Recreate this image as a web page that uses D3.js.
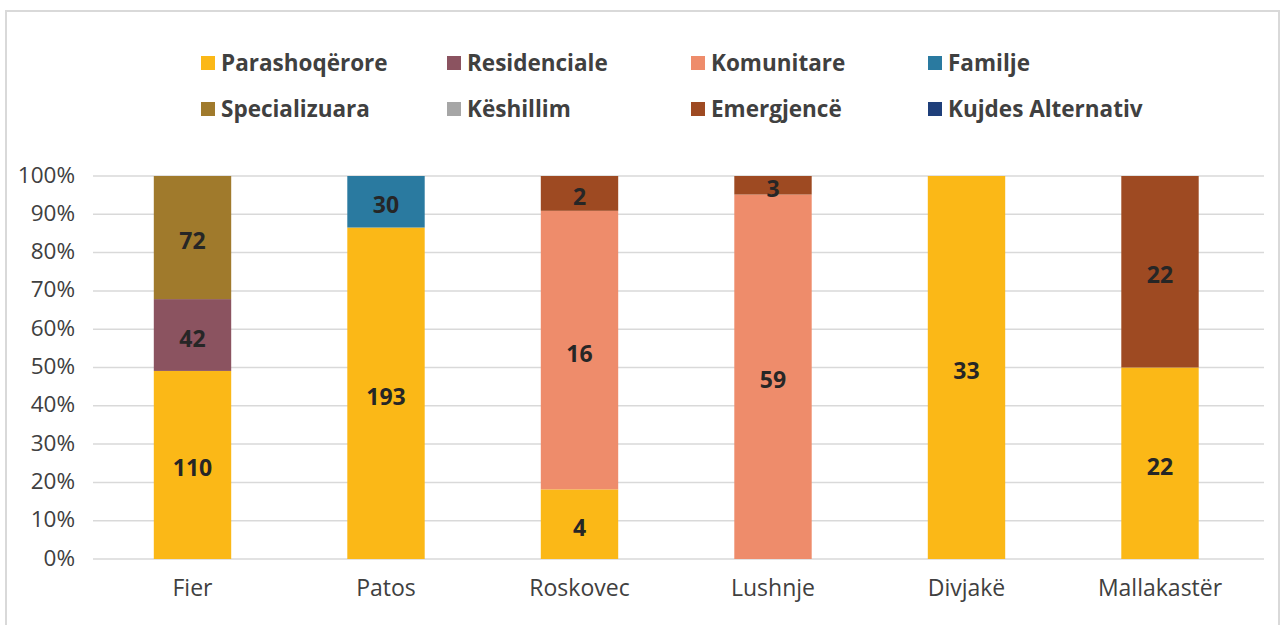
<!DOCTYPE html>
<html><head><meta charset="utf-8">
<script src="https://cdn.jsdelivr.net/npm/d3@7"></script>
<style>body{margin:0;background:#fff}svg{display:block}</style>
</head><body>
<svg id="c" width="1285" height="625"></svg>
<script>
const categories = ["Fier","Patos","Roskovec","Lushnje","Divjakë","Mallakastër"];
const seriesNames = ["Parashoqërore","Residenciale","Komunitare","Familje","Specializuara","Këshillim","Emergjencë","Kujdes Alternativ"];
const seriesColors = ["#FBB817","#8B5360","#EE8C6B","#2A7AA0","#A07A2C","#A6A6A6","#9E4A22","#1F3F7A"];
const parashoqerore = [110,193,4,0,33,22];
const residenciale = [42,0,0,0,0,0];
const komunitare = [0,0,16,59,0,0];
const familje = [0,30,0,0,0,0];
const specializuara = [72,0,0,0,0,0];
const keshillim = [0,0,0,0,0,0];
const emergjence = [0,0,2,3,0,22];
const kujdesAlternativ = [0,0,0,0,0,0];
const yTicks = [0,0.1,0.2,0.3,0.4,0.5,0.6,0.7,0.8,0.9,1];

const seriesValues = [parashoqerore,residenciale,komunitare,familje,specializuara,keshillim,emergjence,kujdesAlternativ];
const rows = categories.map((c,i)=>{
  const r = {cat:c};
  seriesNames.forEach((s,j)=>r[s]=seriesValues[j][i]);
  return r;
});
const stack = d3.stack().keys(seriesNames).offset(d3.stackOffsetExpand);
const layers = stack(rows);

const svg = d3.select("#c");
const font = "'Open Sans', 'Noto Sans', sans-serif";

// frame
svg.append("path").attr("d","M6,625 V11 H1279 V625").attr("fill","none").attr("stroke","#D9D9D9").attr("stroke-width",2);

const x = d3.scaleBand().domain(categories).range([95.75,1256.75]).paddingInner(0.6).paddingOuter(0.3);
const y = d3.scaleLinear().domain([0,1]).range([559,176]);

// gridlines
svg.append("g").selectAll("line").data(yTicks).join("line")
  .attr("x1",93).attr("x2",1264).attr("y1",d=>y(d)).attr("y2",d=>y(d))
  .attr("stroke","#D9D9D9").attr("stroke-width",1.5);

// y axis
const yAxis = d3.axisLeft(y).tickValues(yTicks).tickFormat(d3.format(".0%")).tickSize(0).tickPadding(0);
const yg = svg.append("g").attr("transform","translate(75,0)").call(yAxis);
yg.select(".domain").remove();
yg.selectAll("text").attr("font-family",font).attr("font-size",22.5).attr("fill","#404040").attr("dy","0.27em");

// x axis
const xAxis = d3.axisBottom(x).tickSize(0).tickPadding(0);
const xg = svg.append("g").attr("transform","translate(0,596)").call(xAxis);
xg.select(".domain").remove();
xg.selectAll("text").attr("font-family",font).attr("font-size",23).attr("fill","#404040").attr("dy",0);

// bars
const g = svg.append("g");
layers.forEach((layer,li)=>{
  g.append("g").selectAll("rect").data(layer).join("rect")
    .attr("x",d=>x(d.data.cat)).attr("width",x.bandwidth())
    .attr("y",d=>y(d[1])).attr("height",d=>Math.max(0,y(d[0])-y(d[1])))
    .attr("fill",seriesColors[li]);
});
// labels
layers.forEach((layer,li)=>{
  g.append("g").selectAll("text").data(layer.filter(d=>d.data[layer.key]>0)).join("text")
    .attr("x",d=>x(d.data.cat)+x.bandwidth()/2)
    .attr("y",d=>(y(d[0])+y(d[1]))/2)
    .attr("dy","0.5em").attr("text-anchor","middle")
    .attr("font-family",font).attr("font-weight","bold").attr("font-size",23).attr("fill","#262626")
    .text(d=>d.data[layer.key]);
});

// legend
const legX = [201,447,691,928];
const legY = [56,102];
const lg = svg.append("g");
seriesNames.forEach((s,i)=>{
  const col = i%4, row = Math.floor(i/4);
  lg.append("rect").attr("x",legX[col]).attr("y",legY[row]).attr("width",14).attr("height",14).attr("fill",seriesColors[i]);
  lg.append("text").attr("x",legX[col]+20).attr("y",legY[row]+14.5)
    .attr("font-family",font).attr("font-weight","bold").attr("font-size",22.5).attr("fill","#404040").text(s);
});
</script>
</body></html>
